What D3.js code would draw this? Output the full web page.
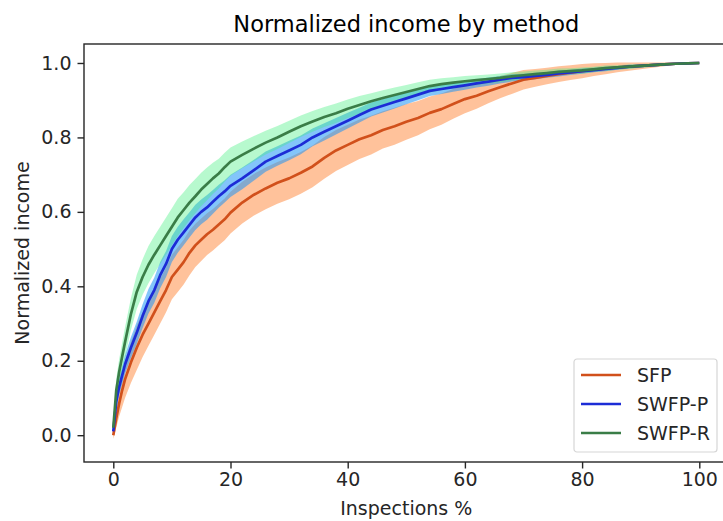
<!DOCTYPE html>
<html>
<head>
<meta charset="utf-8">
<script src="https://cdn.jsdelivr.net/npm/d3@7"></script>
<style>
    body { margin: 0; background: #fff; }
    svg { display: block; font-family: 'DejaVu Sans', sans-serif; }
    .axis path, .axis line { stroke: #262626; }
    .axis text { fill: #262626; font-size: 19px; }
</style>
</head>
<body>
<script>
// data
const inspections = [0, 0.5, 1, 1.5, 2, 3, 4, 5, 6, 7, 8, 9, 10, 11, 12, 13, 14, 15, 16, 17, 18, 19, 20,
    22, 24, 26, 28, 30, 32, 34, 36, 38, 40, 42, 44, 46, 48, 50, 52, 54, 56, 58, 60, 62, 64, 66, 68, 70,
    72, 74, 76, 78, 80, 82, 84, 86, 88, 90, 92, 94, 96, 98, 100];

const sfp = [0.00, 0.045, 0.085, 0.12, 0.15, 0.195, 0.235, 0.27, 0.30, 0.33, 0.36, 0.39, 0.425, 0.445, 0.465, 0.49, 0.51, 0.525, 0.54, 0.552, 0.566, 0.58, 0.598,
    0.625, 0.646, 0.663, 0.678, 0.69, 0.705, 0.722, 0.745, 0.765, 0.78, 0.795, 0.806, 0.82, 0.83, 0.842, 0.852, 0.866, 0.876, 0.89, 0.903, 0.912, 0.924, 0.935, 0.945, 0.955,
    0.96, 0.965, 0.97, 0.974, 0.978, 0.982, 0.985, 0.988, 0.99, 0.992, 0.994, 0.996, 0.998, 0.999, 1.0];

const swfpP = [0.01, 0.09, 0.13, 0.16, 0.19, 0.235, 0.275, 0.32, 0.36, 0.39, 0.43, 0.46, 0.50, 0.525, 0.545, 0.565, 0.585, 0.60, 0.612, 0.627, 0.642, 0.655, 0.67,
    0.69, 0.712, 0.735, 0.75, 0.765, 0.78, 0.80, 0.815, 0.83, 0.845, 0.86, 0.875, 0.885, 0.895, 0.905, 0.915, 0.925, 0.93, 0.935, 0.94, 0.945, 0.95, 0.955, 0.96, 0.962,
    0.965, 0.968, 0.972, 0.975, 0.978, 0.981, 0.984, 0.987, 0.99, 0.992, 0.994, 0.996, 0.998, 0.999, 1.0];

const swfpR = [0.02, 0.12, 0.17, 0.21, 0.25, 0.325, 0.385, 0.425, 0.458, 0.485, 0.51, 0.535, 0.56, 0.585, 0.605, 0.625, 0.642, 0.66, 0.675, 0.69, 0.703, 0.72, 0.735,
    0.753, 0.77, 0.786, 0.80, 0.815, 0.83, 0.843, 0.855, 0.865, 0.877, 0.887, 0.897, 0.906, 0.914, 0.922, 0.93, 0.938, 0.943, 0.947, 0.951, 0.954, 0.957, 0.96, 0.964, 0.967,
    0.97, 0.973, 0.976, 0.978, 0.98, 0.983, 0.986, 0.988, 0.99, 0.992, 0.994, 0.996, 0.998, 0.999, 1.0];

// halve breedte van de gekleurde banden
const sfpSpread = [0.01, 0.025, 0.035, 0.045, 0.05, 0.055, 0.06, 0.06, 0.06, 0.06, 0.06, 0.06, 0.06, 0.06, 0.06, 0.06, 0.058, 0.057, 0.056, 0.056, 0.056, 0.056, 0.056,
    0.056, 0.056, 0.056, 0.056, 0.056, 0.056, 0.056, 0.056, 0.055, 0.054, 0.053, 0.052, 0.05, 0.05, 0.048, 0.046, 0.044, 0.042, 0.04, 0.038, 0.035, 0.032, 0.03, 0.028, 0.026,
    0.024, 0.022, 0.021, 0.02, 0.019, 0.017, 0.015, 0.013, 0.011, 0.009, 0.007, 0.005, 0.003, 0.002, 0];

const swfpPSpread = [0.01, 0.02, 0.022, 0.024, 0.025, 0.028, 0.03, 0.032, 0.033, 0.034, 0.035, 0.035, 0.035, 0.035, 0.035, 0.034, 0.034, 0.033, 0.033, 0.032, 0.031, 0.03, 0.03,
    0.029, 0.028, 0.027, 0.026, 0.026, 0.025, 0.024, 0.023, 0.022, 0.021, 0.02, 0.019, 0.018, 0.017, 0.016, 0.015, 0.014, 0.013, 0.012, 0.012, 0.011, 0.011, 0.01, 0.01, 0.009,
    0.009, 0.008, 0.008, 0.007, 0.007, 0.006, 0.006, 0.005, 0.005, 0.004, 0.004, 0.003, 0.002, 0.001, 0];

const swfpRSpread = [0.01, 0.03, 0.035, 0.037, 0.04, 0.043, 0.046, 0.048, 0.05, 0.05, 0.05, 0.05, 0.05, 0.05, 0.048, 0.047, 0.046, 0.045, 0.044, 0.042, 0.04, 0.039, 0.038,
    0.036, 0.034, 0.032, 0.031, 0.03, 0.029, 0.028, 0.027, 0.026, 0.025, 0.024, 0.022, 0.021, 0.02, 0.019, 0.018, 0.017, 0.016, 0.015, 0.014, 0.013, 0.012, 0.012, 0.011, 0.01,
    0.01, 0.009, 0.009, 0.008, 0.008, 0.007, 0.007, 0.006, 0.006, 0.005, 0.004, 0.003, 0.002, 0.001, 0];

const methods = ['SFP', 'SWFP-P', 'SWFP-R'];
const xTicks = [0, 20, 40, 60, 80, 100];
const yTicks = [0.0, 0.2, 0.4, 0.6, 0.8, 1.0];

// kleuren per methode: lijn en band
const lineColors = ['#d1501b', '#1c2cd6', '#3a7d47'];
const fillColors = ['#ff9a58', '#1e96f5', '#41f07f'];
const fillOpacity = [0.6, 0.55, 0.38];

const series = [
    { name: methods[0], values: sfp, spread: sfpSpread },
    { name: methods[1], values: swfpP, spread: swfpPSpread },
    { name: methods[2], values: swfpR, spread: swfpRSpread }
];

// --- BEGIN d3 ---

const width = 723;
const height = 521;

const svg = d3.select('body').append('svg')
    .attr('width', width)
    .attr('height', height);

// assen-kader (rechterkant valt net buiten het beeld)
const frame = { left: 84, right: 728.6, top: 44, bottom: 462 };

const xScale = d3.scaleLinear()
    .domain([-5, 105])
    .range([frame.left, frame.right]);

const yScale = d3.scaleLinear()
    .domain([-0.072, 1.051])
    .range([frame.bottom, frame.top]);

const area = d3.area()
    .x((d, i) => xScale(inspections[i]))
    .y0(d => yScale(d.v - d.s))
    .y1(d => yScale(d.v + d.s));

const line = d3.line()
    .x((d, i) => xScale(inspections[i]))
    .y(d => yScale(d));

// eerst alle banden
series.forEach((s, k) => {
    const rows = s.values.map((v, i) => ({ v: v, s: s.spread[i] }));
    svg.append('path')
        .attr('d', area(rows))
        .attr('fill', fillColors[k])
        .attr('fill-opacity', fillOpacity[k])
        .attr('stroke', 'none');
});

// dan de lijnen erover
series.forEach((s, k) => {
    svg.append('path')
        .attr('d', line(s.values))
        .attr('fill', 'none')
        .attr('stroke', lineColors[k])
        .attr('stroke-width', 2.7)
        .attr('stroke-linejoin', 'round');
});

// x-as
svg.append('g')
    .attr('class', 'axis')
    .attr('transform', `translate(0,${frame.bottom})`)
    .call(d3.axisBottom(xScale).tickValues(xTicks).tickSize(6.5).tickPadding(4).tickFormat(d3.format('d')))
    .call(g => g.select('.domain').remove());

// y-as
svg.append('g')
    .attr('class', 'axis')
    .attr('transform', `translate(${frame.left},0)`)
    .call(d3.axisLeft(yScale).tickValues(yTicks).tickSize(6.5).tickPadding(6).tickFormat(d3.format('.1f')))
    .call(g => g.select('.domain').remove());

svg.selectAll('.axis text').style('font-family', "'DejaVu Sans', sans-serif");
svg.selectAll('.axis line').attr('stroke-width', 1.4);

// kader rond de grafiek
svg.append('rect')
    .attr('x', frame.left)
    .attr('y', frame.top)
    .attr('width', frame.right - frame.left)
    .attr('height', frame.bottom - frame.top)
    .attr('fill', 'none')
    .attr('stroke', '#262626')
    .attr('stroke-width', 1.4);

// titel en as-labels
svg.append('text')
    .attr('x', (frame.left + frame.right) / 2)
    .attr('y', 32)
    .attr('text-anchor', 'middle')
    .style('font-size', '22.5px')
    .text('Normalized income by method');

svg.append('text')
    .attr('x', (frame.left + frame.right) / 2)
    .attr('y', 515)
    .attr('text-anchor', 'middle')
    .style('font-size', '19px')
    .attr('fill', '#262626')
    .text('Inspections %');

svg.append('text')
    .attr('transform', `translate(29,${(frame.top + frame.bottom) / 2}) rotate(-90)`)
    .attr('text-anchor', 'middle')
    .style('font-size', '19px')
    .attr('fill', '#262626')
    .text('Normalized income');

// legenda
const legend = svg.append('g').attr('transform', 'translate(574,359)');

legend.append('rect')
    .attr('width', 143)
    .attr('height', 93)
    .attr('rx', 3)
    .attr('fill', '#fff')
    .attr('fill-opacity', 0.8)
    .attr('stroke', '#d6d6d6')
    .attr('stroke-width', 1.2);

methods.forEach((m, i) => {
    const y = 16 + i * 29;
    legend.append('line')
        .attr('x1', 7).attr('x2', 47)
        .attr('y1', y).attr('y2', y)
        .attr('stroke', lineColors[i])
        .attr('stroke-width', 2.7);
    legend.append('text')
        .attr('x', 63)
        .attr('y', y)
        .attr('dy', '0.36em')
        .style('font-size', '19px')
        .attr('fill', '#262626')
        .text(m);
});
</script>
</body>
</html>
